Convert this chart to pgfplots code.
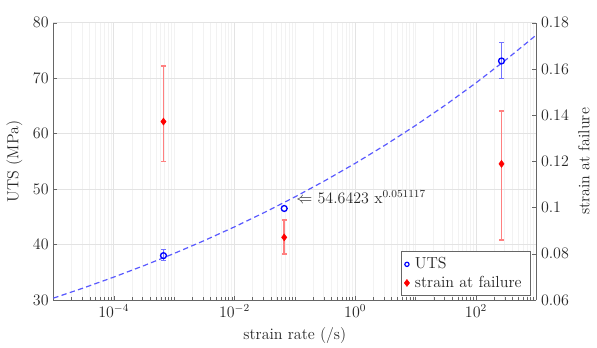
\documentclass[border=0pt]{standalone}
\usepackage{pgfplots}
\pgfplotsset{compat=1.18}
\definecolor{axgray}{gray}{0.4}
\definecolor{txtgray}{gray}{0.15}
\definecolor{ebred}{rgb}{1,0.5,0.5}
\definecolor{ebblue}{rgb}{0.45,0.45,1}
\begin{document}
\begin{tikzpicture}
\useasboundingbox (-40pt,-35.25pt) rectangle (407.75pt,225pt);
\begin{axis}[scale only axis, width=362.25pt, height=208pt, at={(0,0)}, anchor=south west,
  xmode=log, xmin=1e-5, xmax=1000,
  axis line style={axgray}, tick style={axgray},
  tick label style={color=txtgray, font=\large}, label style={color=txtgray, font=\large},
  major tick length=3pt, minor tick length=2pt, tick align=inside,
  ymin=30, ymax=80, ytick={30,40,50,60,70,80},
  axis y line*=left, axis x line*=bottom,
  xtick={1e-4,1e-2,1,100},
  minor xtick={2e-5,3e-5,4e-5,5e-5,6e-5,7e-5,8e-5,9e-5,
    2e-4,3e-4,4e-4,5e-4,6e-4,7e-4,8e-4,9e-4,1e-3,
    2e-3,3e-3,4e-3,5e-3,6e-3,7e-3,8e-3,9e-3,
    2e-2,3e-2,4e-2,5e-2,6e-2,7e-2,8e-2,9e-2,1e-1,
    2e-1,3e-1,4e-1,5e-1,6e-1,7e-1,8e-1,9e-1,
    2,3,4,5,6,7,8,9,10,20,30,40,50,60,70,80,90,
    200,300,400,500,600,700,800,900},
  grid=both, major grid style={gray!22}, minor grid style={gray!10},
  xlabel={strain rate (/s)}, ylabel={UTS (MPa)},
  xlabel style={yshift=-1pt}, ylabel style={yshift=1pt},
  clip=false]
  \addplot[blue!65, dash pattern=on 4pt off 2.5pt, line width=0.9pt] coordinates {
    (1e-5,30.334) (3.1623e-5,32.174) (1e-4,34.124) (3.1623e-4,36.193)
    (1e-3,38.387) (3.1623e-3,40.714) (1e-2,43.181) (3.1623e-2,45.799)
    (1e-1,48.575) (3.1623e-1,51.520) (1,54.642) (3.1623,57.955)
    (10,61.468) (31.623,65.193) (100,69.145) (316.23,73.337) (1000,77.782)};
  % UTS error bars (lower, upper)
  \addplot[ebblue, line width=1.2pt, mark=-, mark size=2pt, mark options={solid, ebblue}]
    coordinates {(6.67e-4,37.1) (6.67e-4,39.1)};
  \addplot[ebblue, line width=1.2pt, mark=-, mark size=2pt, mark options={solid, ebblue}]
    coordinates {(265,69.9) (265,76.4)};
  \addplot[blue, only marks, mark=o, mark size=2.2pt, line width=1pt]
    coordinates {(6.67e-4,38.0) (6.67e-2,46.5) (265,73.1)};
  \node[anchor=west, inner sep=1pt, text=txtgray, font=\large] at (axis cs:0.1,48.575)
    {$\Leftarrow$ 54.6423 x$^{0.051117}$};
\end{axis}
\begin{axis}[scale only axis, width=362.25pt, height=208pt, at={(0,0)}, anchor=south west,
  xmode=log, xmin=1e-5, xmax=1000,
  axis line style={axgray}, tick style={axgray},
  tick label style={color=txtgray, font=\large}, label style={color=txtgray, font=\large},
  major tick length=3pt, tick align=inside,
  ymin=0.06, ymax=0.18, ytick={0.06,0.08,0.1,0.12,0.14,0.16,0.18},
  axis y line*=right, axis x line=none,
  yticklabel style={/pgf/number format/fixed, /pgf/number format/precision=2},
  ylabel={strain at failure},
  legend style={at={(0.988,0.015)}, anchor=south east, draw=axgray, fill=white,
    font=\large, text=txtgray, row sep=0pt, inner sep=2.5pt,
    nodes={inner xsep=4pt}},
  legend cell align=left]
  % strain error bars (lower, upper)
  \addplot[ebred, line width=1.2pt, mark=-, mark size=2pt, mark options={solid, ebred}, forget plot]
    coordinates {(6.67e-4,0.1199) (6.67e-4,0.1613)};
  \addplot[ebred, line width=1.2pt, mark=-, mark size=2pt, mark options={solid, ebred}, forget plot]
    coordinates {(6.67e-2,0.0799) (6.67e-2,0.0946)};
  \addplot[ebred, line width=1.2pt, mark=-, mark size=2pt, mark options={solid, ebred}, forget plot]
    coordinates {(265,0.0860) (265,0.1417)};
  \addlegendimage{blue, only marks, mark=o, mark size=1.6pt, line width=0.9pt}
  \addlegendentry{UTS}
  \addplot[red, only marks, mark=diamond*, mark size=2.6pt]
    coordinates {(6.67e-4,0.1372) (6.67e-2,0.0871) (265,0.1189)};
  \addlegendentry{strain at failure}
\end{axis}
\end{tikzpicture}
\end{document}
